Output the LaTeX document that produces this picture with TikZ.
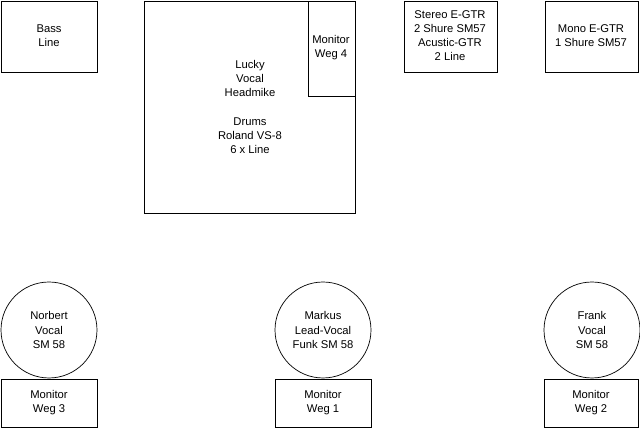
\documentclass[tikz,border=0pt]{standalone}
\usepackage{fontspec}
\setmainfont{Liberation Sans}
\begin{document}
\begin{tikzpicture}[x=0.02cm,y=-0.02cm,
    every node/.style={font=\fontsize{6.4}{8}\selectfont,align=center},
    box/.style={draw,thin},
    mic/.style={draw,thin,circle,minimum size=1.92cm,inner sep=0pt}]
  \useasboundingbox (0,0) rectangle (640,428);
  %Obere Reihe
  \draw[box] (1,1) rectangle (97,72);
  \node (bass) at (49,36) {Bass\\Line};
  \draw[box] (144,1) rectangle (355,213);
  \node (drums) at (250,107) {Lucky\\Vocal\\Headmike\\[8pt]Drums\\Roland VS-8\\6 x Line};
  \draw[box] (308,1) rectangle (355,96);
  \node (mon4) at (331,48) {Monitor\\Weg 4};
  \draw[box] (404,1) rectangle (497,72);
  \node (stereo) at (450,36) {Stereo E-GTR\\2 Shure SM57\\Acustic-GTR\\2 Line};
  \draw[box] (545,1) rectangle (638,72);
  \node (mono) at (591,36) {Mono E-GTR\\1 Shure SM57};
  %Saenger
  \node[mic] (norbert) at (49,330) {Norbert\\Vocal\\SM 58};
  \node[mic] (markus) at (323,330) {Markus\\Lead-Vocal\\Funk SM 58};
  \node[mic] (frank) at (592,330) {Frank\\Vocal\\SM 58};
  %Monitore
  \draw[box] (1,379) rectangle (97,427);
  \node (mon3) at (49,403) {Monitor\\Weg 3};
  \draw[box] (275,379) rectangle (371,427);
  \node (mon1) at (323,403) {Monitor\\Weg 1};
  \draw[box] (544,379) rectangle (638,427);
  \node (mon2) at (591,403) {Monitor\\Weg 2};
\end{tikzpicture}
\end{document}
